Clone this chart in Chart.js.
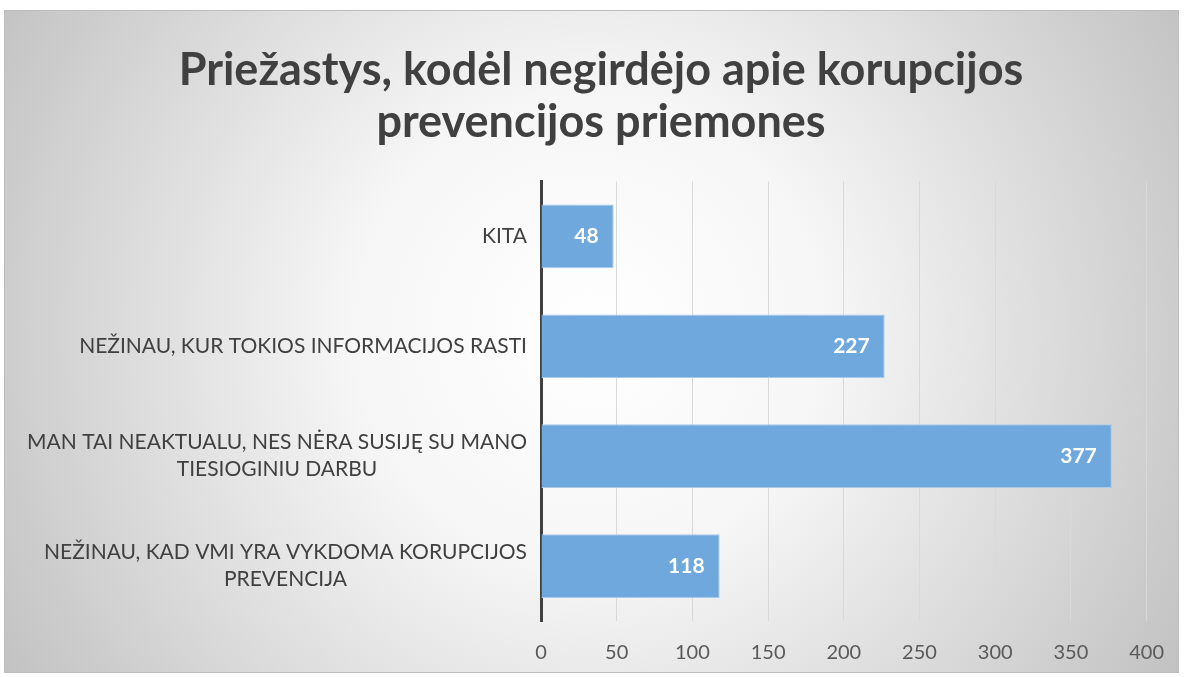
<!DOCTYPE html>
<html lang="lt">
<head>
<meta charset="UTF-8">
<title>Priežastys, kodėl negirdėjo apie korupcijos prevencijos priemones</title>
<script src="https://cdn.jsdelivr.net/npm/chart.js"></script>
<style>
  html, body { margin: 0; padding: 0; background: #fff; }
  #wrap { width: 1184px; height: 677px; }
</style>
</head>
<body>
<div id="wrap"><canvas id="chart" width="1184" height="677"></canvas></div>
<script>
const titleLines = ['Priežastys, kodėl negirdėjo apie korupcijos', 'prevencijos priemones'];
const categories = [
    ['KITA'],
    ['NEŽINAU, KUR TOKIOS INFORMACIJOS RASTI'],
    ['MAN TAI NEAKTUALU, NES NĖRA SUSIJĘ SU MANO', 'TIESIOGINIU DARBU'],
    ['NEŽINAU, KAD VMI YRA VYKDOMA KORUPCIJOS', 'PREVENCIJA']
];
const counts = [48, 227, 377, 118];
const axisMin = 0, axisMax = 400, axisStep = 50;

const FONT = 'Lato, "Open Sans", sans-serif';

// gray frame with a soft radial gradient, like the Office chart style
const backdrop = {
    id: 'backdrop',
    beforeDraw(chart) {
        const c = chart.ctx;
        c.save();
        c.fillStyle = '#fff';
        c.fillRect(0, 0, chart.width, chart.height);
        const g = c.createRadialGradient(590, 330, 0, 590, 330, 680);
        g.addColorStop(0, '#ffffff');
        g.addColorStop(0.35, '#f6f6f6');
        g.addColorStop(1, '#c2c2c2');
        c.fillStyle = g;
        c.fillRect(4, 10, 1175, 663);
        c.strokeStyle = '#bdbdbd';
        c.lineWidth = 1;
        c.strokeRect(4.5, 10.5, 1174, 662);
        c.restore();
    }
};

// category labels: block right aligned, lines centred within the block
const catLabels = {
    id: 'catLabels',
    afterDraw(chart) {
        const c = chart.ctx, ys = chart.scales.y;
        c.save();
        c.font = '21px ' + FONT;
        c.fillStyle = '#404040';
        c.textAlign = 'center';
        c.textBaseline = 'middle';
        const right = ys.right - 14, lh = 27;
        categories.forEach((lines, i) => {
            const w = Math.max(...lines.map(l => c.measureText(l).width));
            const cx = right - w / 2;
            const y0 = ys.getPixelForTick(i) - (lines.length - 1) * lh / 2;
            lines.forEach((l, k) => c.fillText(l, cx, y0 + k * lh));
        });
        c.restore();
    }
};

// value labels inside bar ends
const valueLabels = {
    id: 'valueLabels',
    afterDatasetsDraw(chart) {
        const c = chart.ctx;
        const meta = chart.getDatasetMeta(0);
        c.save();
        c.font = 'bold 21px ' + FONT;
        c.fillStyle = '#ffffff';
        c.textAlign = 'right';
        c.textBaseline = 'middle';
        meta.data.forEach((bar, i) => {
            c.fillText(String(counts[i]), bar.x - 15, bar.y);
        });
        c.restore();
    }
};

new Chart(document.getElementById('chart'), {
    type: 'bar',
    data: {
        labels: categories,
        datasets: [{
            data: counts,
            backgroundColor: '#6fa8dc',
            borderColor: '#a9cbeb',
            borderWidth: 1,
            borderSkipped: 'left',
            barPercentage: 0.58,
            categoryPercentage: 1.0
        }]
    },
    options: {
        indexAxis: 'y',
        responsive: false,
        animation: false,
        layout: { padding: { top: 10, left: 54, right: 36, bottom: 6 } },
        plugins: {
            legend: { display: false },
            tooltip: { enabled: false },
            title: {
                display: true,
                text: titleLines,
                color: '#404040',
                font: { family: FONT, size: 45, weight: 'bold', lineHeight: 1.16 },
                padding: { top: 34, bottom: 33 }
            }
        },
        scales: {
            x: {
                min: axisMin,
                max: axisMax,
                ticks: {
                    stepSize: axisStep,
                    color: '#595959',
                    font: { family: FONT, size: 20 },
                    padding: 20
                },
                grid: { color: '#d9d9d9', lineWidth: 1, drawTicks: false },
                border: { display: false },
                afterFit(scale) { scale.height = 50; }
            },
            y: {
                ticks: { display: false },
                grid: { display: false },
                border: { display: true, color: '#404040', width: 3 },
                afterFit(scale) { scale.width = 487; }
            }
        }
    },
    plugins: [backdrop, catLabels, valueLabels]
});
</script>
</body>
</html>
